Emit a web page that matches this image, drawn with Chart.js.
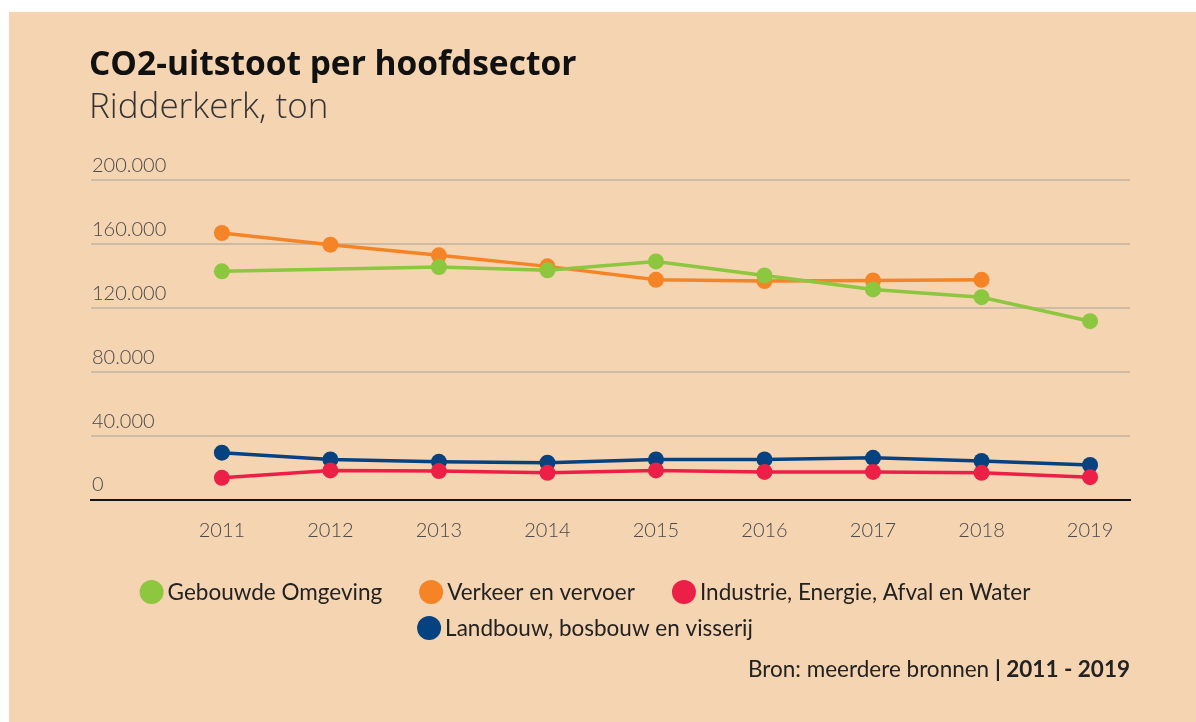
<!DOCTYPE html>
<html>
<head>
<meta charset="utf-8">
<script src="https://cdn.jsdelivr.net/npm/chart.js@4/dist/chart.umd.min.js"></script>
<style>
  html, body { margin: 0; padding: 0; background: #ffffff; }
  #panel { position: absolute; left: 9px; top: 12px; width: 1187px; height: 710px; background: #f5d4b2; }
  canvas { display: block; }
</style>
</head>
<body>
<div id="panel"><canvas id="c" width="1187" height="710"></canvas></div>
<script>
// CO2 emissions per main sector, Ridderkerk (tonnes)
const years = [2011, 2012, 2013, 2014, 2015, 2016, 2017, 2018, 2019];
const gebouwdeOmgeving = [143100, null, 145800, 143700, 149300, 140500, 131800, 126900, 111900];
const verkeerEnVervoer = [167100, 159800, 153100, 146200, 137800, 137000, 137400, 137800, null];
const industrieEnergie = [13900, 18500, 18100, 17000, 18500, 17600, 17600, 17000, 14300];
const landbouwVisserij = [29600, 25400, 23900, 23300, 25400, 25400, 26400, 24400, 21900];

const seriesNames = [
  'Gebouwde Omgeving',
  'Verkeer en vervoer',
  'Industrie, Energie, Afval en Water',
  'Landbouw, bosbouw en visserij'
];
const seriesColors = ['#8dc63f', '#f58426', '#ec1f46', '#06427f'];
const yTickValues = [0, 40000, 80000, 120000, 160000, 200000];

const titleText = 'CO2-uitstoot per hoofdsector';
const subtitleText = 'Ridderkerk, ton';
const sourceText = 'Bron: meerdere bronnen ';
const sourcePeriod = '| 2011 - 2019';

const FONT = 'Lato, "Open Sans", sans-serif';
const HEAD_FONT = '"Open Sans", Lato, sans-serif';

function formatThousands(v) {
  return String(v).replace(/\B(?=(\d{3})+(?!\d))/g, '.');
}

function toPoints(values) {
  return years.map((yr, i) => ({ x: yr, y: values[i] }));
}

const seriesValues = [gebouwdeOmgeving, verkeerEnVervoer, industrieEnergie, landbouwVisserij];

// Legend rows (centred, wrapping) and source line under the plot
const footerPlugin = {
  id: 'sectorFooter',
  afterDraw(chart, args, opts) {
    const ctx = chart.ctx;
    ctx.save();
    ctx.font = opts.font;
    ctx.textBaseline = 'middle';
    ctx.textAlign = 'left';
    const items = chart.data.datasets.map(ds => ({
      text: ds.label,
      color: ds.borderColor,
      w: opts.dot * 2 + opts.gap + ctx.measureText(ds.label).width
    }));
    const rows = [[]];
    let rowW = 0;
    items.forEach(it => {
      const cur = rows[rows.length - 1];
      const add = (cur.length ? opts.spacing : 0) + it.w;
      if (cur.length && rowW + add > opts.maxWidth) {
        rows.push([it]);
        rowW = it.w;
      } else {
        cur.push(it);
        rowW += add;
      }
    });
    rows.forEach((row, r) => {
      const total = row.reduce((s, it) => s + it.w, 0) + opts.spacing * (row.length - 1);
      let x = opts.centerX - total / 2;
      const y = opts.top + r * opts.rowHeight;
      row.forEach(it => {
        ctx.fillStyle = it.color;
        ctx.beginPath();
        ctx.arc(x + opts.dot, y, opts.dot, 0, Math.PI * 2);
        ctx.fill();
        ctx.fillStyle = opts.color;
        ctx.fillText(it.text, x + opts.dot * 2 + opts.gap, y + 1);
        x += it.w + opts.spacing;
      });
    });

    // source line, right-aligned to the plot edge
    const right = chart.chartArea.right;
    ctx.textAlign = 'right';
    ctx.fillStyle = opts.color;
    ctx.font = opts.sourceBold;
    ctx.fillText(sourcePeriod, right, opts.sourceY);
    const bw = ctx.measureText(sourcePeriod).width;
    ctx.font = opts.sourceFont;
    ctx.fillText(sourceText, right - bw, opts.sourceY);
    ctx.restore();
  }
};

new Chart(document.getElementById('c'), {
  type: 'line',
  data: {
    datasets: seriesNames.map((name, i) => ({
      label: name,
      data: toPoints(seriesValues[i]),
      borderColor: seriesColors[i],
      backgroundColor: seriesColors[i],
      pointBackgroundColor: seriesColors[i],
      pointBorderColor: seriesColors[i],
      borderWidth: 3.5,
      pointRadius: 8,
      pointBorderWidth: 0,
      pointHoverRadius: 8,
      spanGaps: true,
      tension: 0,
      fill: false
    }))
  },
  options: {
    responsive: false,
    devicePixelRatio: 1,
    animation: false,
    layout: { padding: { left: 80, right: 66, top: 0, bottom: 160 } },
    plugins: {
      legend: { display: false },
      tooltip: { enabled: false },
      title: {
        display: true,
        text: titleText,
        align: 'start',
        color: '#111111',
        font: { family: HEAD_FONT, size: 33.5, weight: 'bold' },
        padding: { top: 33.5, bottom: 0 }
      },
      subtitle: {
        display: true,
        text: subtitleText,
        align: 'start',
        color: '#333333',
        font: { family: HEAD_FONT, size: 35, weight: '300' },
        padding: { top: 1.8, bottom: 50.9 }
      },
      sectorFooter: {
        font: '22.5px ' + FONT,
        color: '#222222',
        dot: 12,
        gap: 4,
        spacing: 37,
        maxWidth: 950,
        centerX: 576,
        top: 580,
        rowHeight: 36,
        sourceY: 658,
        sourceFont: '22.5px ' + FONT,
        sourceBold: 'bold 22.5px ' + FONT
      }
    },
    scales: {
      x: {
        type: 'linear',
        min: 2009.794,
        max: 2019.368,
        afterBuildTicks: axis => { axis.ticks = years.map(v => ({ value: v })); },
        grid: { display: false, drawTicks: false },
        border: { display: true, color: '#151515', width: 2 },
        ticks: {
          padding: 19,
          color: '#4a4a4a',
          font: { family: FONT, size: 20, weight: '300' },
          callback: v => String(v)
        }
      },
      y: {
        min: 0,
        max: 200000,
        afterBuildTicks: axis => { axis.ticks = yTickValues.map(v => ({ value: v })); },
        grid: {
          drawTicks: false,
          lineWidth: 2,
          color: c => (c.tick && c.tick.value === 0 ? 'rgba(0,0,0,0)' : '#cdbaa4')
        },
        border: { display: false },
        ticks: {
          mirror: true,
          padding: 1,
          labelOffset: -15,
          color: '#4a4a4a',
          font: { family: FONT, size: 20, weight: '300' },
          callback: v => formatThousands(v)
        }
      }
    }
  },
  plugins: [footerPlugin]
});
</script>
</body>
</html>
